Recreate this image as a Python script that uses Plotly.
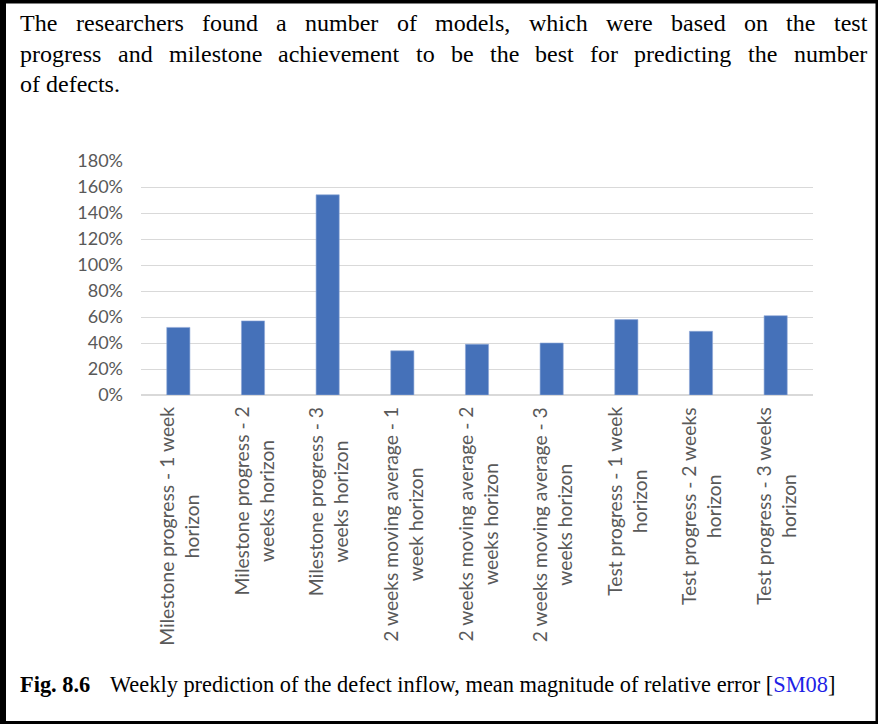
import plotly.graph_objects as go

# Mean magnitude of relative error for each weekly prediction model
categories = [
    "Milestone progress - 1 week<br>horizon",
    "Milestone progress - 2<br>weeks horizon",
    "Milestone progress - 3<br>weeks horizon",
    "2 weeks moving average - 1<br>week horizon",
    "2 weeks moving average - 2<br>weeks horizon",
    "2 weeks moving average - 3<br>weeks horizon",
    "Test progress - 1 week<br>horizon",
    "Test progress - 2 weeks<br>horizon",
    "Test progress - 3 weeks<br>horizon",
]
mmre = [0.52, 0.57, 1.54, 0.34, 0.39, 0.40, 0.58, 0.49, 0.61]
y_ticks = [0, 0.2, 0.4, 0.6, 0.8, 1.0, 1.2, 1.4, 1.6, 1.8]

body_lines = [
    "The researchers found a number of models, which were based on the test",
    "progress and milestone achievement to be the best for predicting the number",
    "of defects.",
]
caption_label = "Fig. 8.6"
caption_text = "Weekly prediction of the defect inflow, mean magnitude of relative error ["
caption_ref = "SM08"

W, H = 878, 724
L, R, T, B = 141, 65, 161, 329
PW, PH = W - L - R, H - T - B


def px(x):
    return (x - L) / PW


def py(y):
    return (H - B - y) / PH


# Times / Liberation Serif advance widths (per 1000 em) for justification
TIMES = {
    " ": 250, ",": 250, ".": 250, "-": 333, "T": 611,
    "a": 444, "b": 500, "c": 444, "d": 500, "e": 444, "f": 333, "g": 500,
    "h": 500, "i": 278, "j": 278, "k": 500, "l": 278, "m": 778, "n": 500,
    "o": 500, "p": 500, "q": 500, "r": 333, "s": 389, "t": 278, "u": 500,
    "v": 500, "w": 722, "x": 500, "y": 500, "z": 444,
}


def text_width(s, size):
    return sum(TIMES.get(c, 500) for c in s) * size / 1000.0


SERIF = "Liberation Serif"
SANS = "Lato"
GREY = "#595959"
GRID = "#D9D9D9"

fig = go.Figure()
fig.add_trace(go.Bar(
    x=categories, y=mmre,
    marker=dict(color="#4571B9", line=dict(color="#8FA8D6", width=0.6)),
    width=0.31,
    hoverinfo="x+y",
))

annotations = []

# Body paragraph, justified between left and right text edges
body_size = 24
left_edge, right_edge = 20, 867
line_centers = [22.5, 53.5, 84]
for i, (line, yc) in enumerate(zip(body_lines, line_centers)):
    words = line.split(" ")
    widths = [text_width(w, body_size) for w in words]
    last = i == len(body_lines) - 1
    if last or len(words) == 1:
        gap = TIMES[" "] * body_size / 1000.0
    else:
        gap = (right_edge - left_edge - sum(widths)) / (len(words) - 1)
    xcur = left_edge
    for w, ww in zip(words, widths):
        annotations.append(dict(
            text=w, x=px(xcur), y=py(yc), xref="paper", yref="paper",
            xanchor="left", yanchor="middle", showarrow=False,
            borderpad=0, borderwidth=0,
            font=dict(family=SERIF, size=body_size, color="black"),
        ))
        xcur += ww + gap

# Rotated, centre-aligned category labels under each bar
for c in categories:
    annotations.append(dict(
        text=c, x=c, y=py(407), xref="x", yref="paper",
        xanchor="center", yanchor="top", textangle=-90, align="center",
        showarrow=False, borderpad=0, borderwidth=0,
        font=dict(family=SANS, size=19.3, color=GREY),
    ))

# Figure caption
cap_size = 22.4
cap_y = 684
annotations.append(dict(
    text="<b>" + caption_label + "</b>", x=px(20), y=py(cap_y),
    xref="paper", yref="paper", xanchor="left", yanchor="middle",
    showarrow=False, borderpad=0, borderwidth=0,
    font=dict(family=SERIF, size=cap_size, color="black"),
))
annotations.append(dict(
    text=caption_text + "<span style='color:#1F1FE6'>" + caption_ref + "</span>]",
    x=px(110), y=py(cap_y), xref="paper", yref="paper",
    xanchor="left", yanchor="middle",
    showarrow=False, borderpad=0, borderwidth=0,
    font=dict(family=SERIF, size=cap_size, color="black"),
))

# Black frame round the whole panel
shapes = []
for x0, y0, x1, y1 in [(0, 0, 6, H), (0, 0, W, 3.5), (W - 2.5, 0, W, H), (0, H - 3, W, H)]:
    shapes.append(dict(
        type="rect", xref="paper", yref="paper",
        x0=px(x0), x1=px(x1), y0=py(y0), y1=py(y1),
        fillcolor="black", line=dict(width=0), layer="above",
    ))

fig.update_layout(
    width=W, height=H,
    margin=dict(l=L, r=R, t=T, b=B, pad=0),
    paper_bgcolor="white", plot_bgcolor="white",
    showlegend=False,
    bargap=0.69,
    annotations=annotations,
    shapes=shapes,
    xaxis=dict(
        type="category", showticklabels=False, ticks="",
        showgrid=False, showline=False, zeroline=False,
        range=[-0.5, len(categories) - 0.5],
    ),
    yaxis=dict(
        range=[0, 1.8], tickvals=y_ticks, tickformat=".0%",
        showgrid=True, gridcolor=GRID, gridwidth=1.3,
        zeroline=True, zerolinecolor=GRID, zerolinewidth=1.6,
        showline=False, ticks="", ticklabelstandoff=17,
        tickfont=dict(family=SANS, size=18, color=GREY),
    ),
)

fig.write_html("out.html")
